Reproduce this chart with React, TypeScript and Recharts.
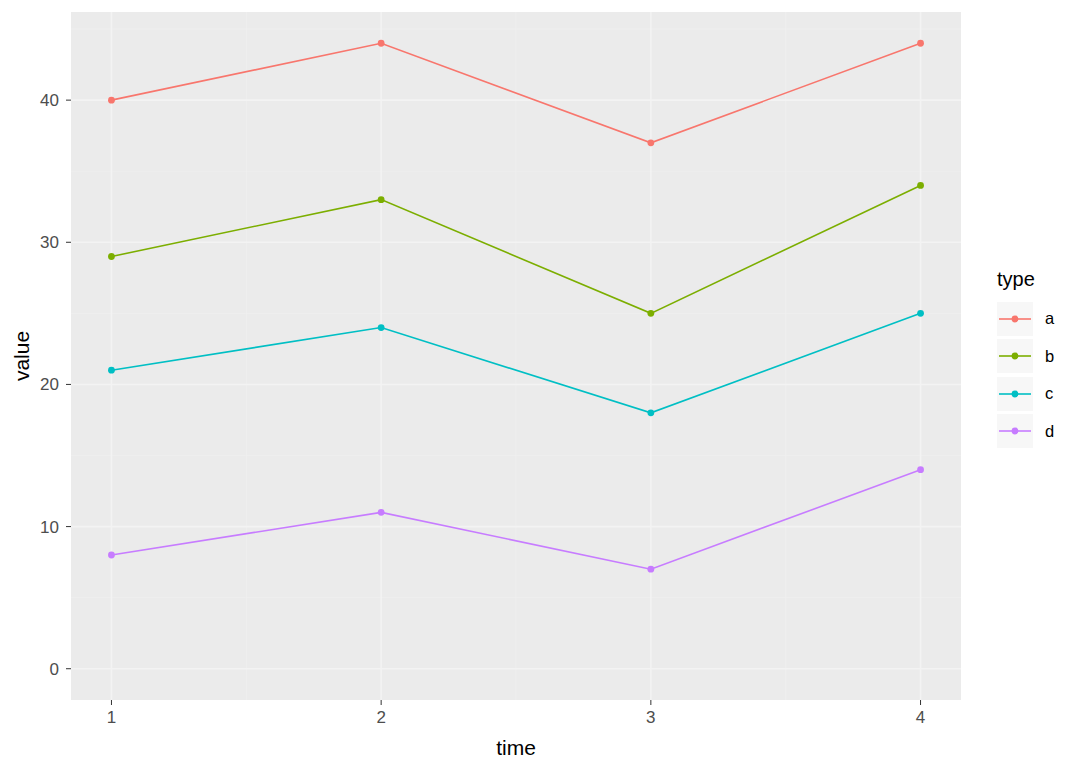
import React from 'react';
import {
  LineChart,
  Line,
  XAxis,
  YAxis,
  CartesianGrid
} from 'recharts';

// values
const times = [1, 2, 3, 4];
const seriesA = [40, 44, 37, 44];
const seriesB = [29, 33, 25, 34];
const seriesC = [21, 24, 18, 25];
const seriesD = [8, 11, 7, 14];

const typeNames = ['a', 'b', 'c', 'd'];
const typeColors = ['#F8766D', '#7CAE00', '#00BFC4', '#C77CFF'];

const xTicks = [1, 2, 3, 4];
const yTicks = [0, 10, 20, 30, 40];
const xMinor = [1.5, 2.5, 3.5];
const yMinor = [5, 15, 25, 35, 45];

const data = times.map((t, i) => ({
  time: t,
  a: seriesA[i],
  b: seriesB[i],
  c: seriesC[i],
  d: seriesD[i]
}));

const FONT = '"Liberation Sans", Arial, sans-serif';

// ggplot-like legend with title and keys, placed right of the panel
const TypeLegend = () => (
  <div style={{ position: 'absolute', left: 997, top: 268, fontFamily: FONT, color: '#000' }}>
    <div style={{ fontSize: 20, lineHeight: '22px', marginBottom: 10 }}>type</div>
    {typeNames.map((name, i) => (
      <div key={name} style={{ display: 'flex', alignItems: 'center', height: 37.5 }}>
        <svg width={36} height={34} style={{ display: 'block' }}>
          <rect x={0} y={0} width={36} height={34} fill="#F7F7F7" />
          <line x1={2} y1={17} x2={34} y2={17} stroke={typeColors[i]} strokeWidth={1.6} />
          <circle cx={18} cy={17} r={3.4} fill={typeColors[i]} />
        </svg>
        <span style={{ fontSize: 16.5, marginLeft: 12 }}>{name}</span>
      </div>
    ))}
  </div>
);

export default function App() {
  return (
    <div style={{ position: 'absolute', left: 0, top: 0, width: 1080, height: 771, background: '#fff' }}>
      <LineChart
        width={1080}
        height={771}
        data={data}
        margin={{ top: 12, right: 119, left: 0, bottom: 0 }}
      >
        <CartesianGrid
          fill="#EBEBEB"
          stroke="#EFEFEF"
          strokeWidth={0.8}
          horizontalValues={yMinor}
          verticalValues={xMinor}
        />
        <CartesianGrid
          stroke="#F3F3F3"
          strokeWidth={1.6}
          horizontalValues={yTicks}
          verticalValues={xTicks}
        />
        <XAxis
          dataKey="time"
          type="number"
          domain={[0.85, 4.15]}
          ticks={xTicks}
          allowDataOverflow
          axisLine={false}
          tickSize={5}
          tickMargin={6}
          tickLine={{ stroke: '#333333' }}
          tick={{ fill: '#4D4D4D', fontSize: 17, fontFamily: FONT }}
          height={71}
          label={{
            content: () => (
              <text x={516} y={755} textAnchor="middle" fontSize={21} fontFamily={FONT} fill="#000">
                time
              </text>
            )
          }}
        />
        <YAxis
          type="number"
          domain={[-2.2, 46.2]}
          ticks={yTicks}
          allowDataOverflow
          axisLine={false}
          tickSize={5}
          tickMargin={7}
          tickLine={{ stroke: '#333333' }}
          tick={{ fill: '#4D4D4D', fontSize: 17, fontFamily: FONT }}
          width={71}
          label={{
            content: () => (
              <text
                x={29}
                y={356}
                transform="rotate(-90 29 356)"
                textAnchor="middle"
                fontSize={21}
                fontFamily={FONT}
                fill="#000"
              >
                value
              </text>
            )
          }}
        />
        {typeNames.map((name, i) => (
          <Line
            key={name}
            type="linear"
            dataKey={name}
            stroke={typeColors[i]}
            strokeWidth={1.6}
            dot={{ r: 3.4, fill: typeColors[i], stroke: 'none' }}
            activeDot={false}
            isAnimationActive={false}
          />
        ))}
      </LineChart>
      <TypeLegend />
    </div>
  );
}
